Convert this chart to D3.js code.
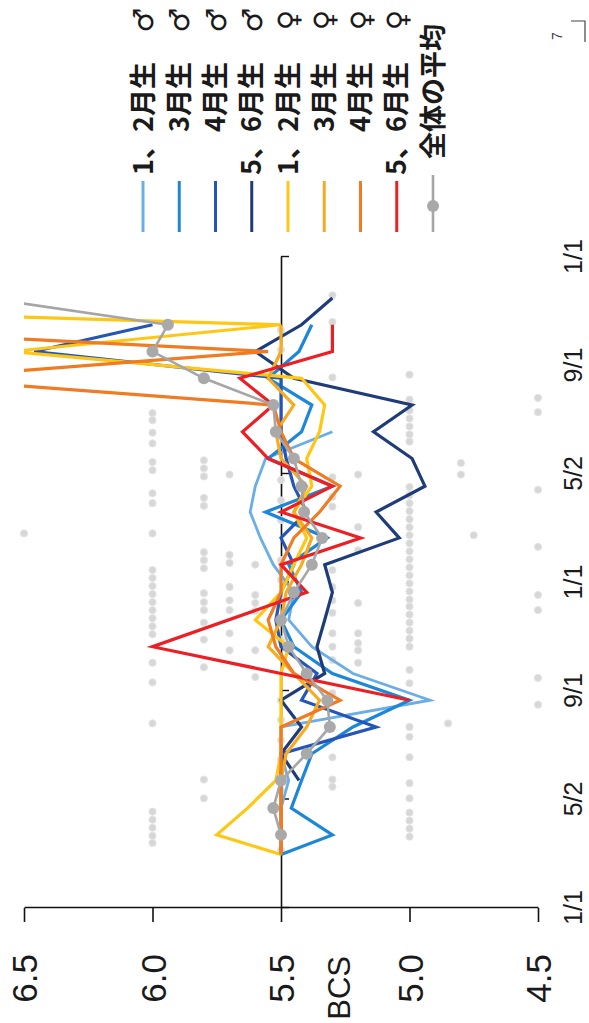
<!DOCTYPE html>
<html><head><meta charset="utf-8">
<script src="https://cdn.jsdelivr.net/npm/d3@7"></script>
<style>html,body{margin:0;padding:0;background:#fff;}svg{display:block;}</style>
</head><body>
<svg id="c" width="589" height="1023"></svg>
<script>
// ---------- data ----------
const dateTickDays = [0, 121.67, 243.33, 365, 486.67, 608.33, 730];
const dateTickLabels = ["1/1", "5/2", "9/1", "1/1", "5/2", "9/1", "1/1"];
const bcsTicks = [4.5, 5.0, 5.5, 6.0, 6.5];
const measureDays = [60, 82, 112, 143, 173, 203, 233, 263, 293, 323, 354, 385, 415, 444, 473, 504, 534, 564, 594, 624, 654, 684];

const seriesLabels = ["1、2月生", "3月生", "4月生", "5、6月生", "1、2月生", "3月生", "4月生", "5、6月生"];
const seriesSex = ["♂", "♂", "♂", "♂", "♀", "♀", "♀", "♀"];
const seriesColors = ["#6aaee8", "#1c87d9", "#2456b8", "#1f3c7a", "#ffc715", "#f7ab22", "#ef7b22", "#ec2024"];
const avgLabel = "全体の平均";

const male12   = [5.5, 5.5, 5.5, 5.47, 5.5, 5.5, 4.92, 5.22, 5.38, 5.47, 5.45, 5.53, 5.58, 5.62, 5.6, 5.56, 5.3, null, null, null, null, null];
const male3    = [5.5, 5.3, 5.46, 5.42, 5.38, 5.22, 5.0, 5.3, 5.45, 5.5, 5.42, 5.47, 5.32, 5.56, 5.3, 5.55, 5.42, 5.38, 5.55, 5.43, 5.38, null];
const male4    = [5.5, 5.5, 5.5, 5.5, 5.5, 5.13, 5.42, 5.36, 5.5, 5.52, 5.5, 5.45, 5.5, 5.4, 5.45, 5.48, 5.5, 5.5, 5.5, 6.46, 6.0, null];
const male56   = [null, null, null, 5.43, 5.5, 5.42, 5.5, 5.33, 5.36, 5.33, 5.3, 5.33, 5.04, 5.13, 4.94, 4.99, 5.14, 4.99, 5.45, 5.6, 5.42, 5.3];
const female12 = [5.5, 5.75, 5.63, 5.52, 5.5, 5.5, 5.5, 5.5, 5.47, 5.6, 5.5, 5.45, 5.4, 5.45, 5.38, 5.4, 5.35, 5.33, 5.42, 6.55, 5.5, 9.0];
const female3  = [5.5, 5.5, 5.5, 5.5, 5.48, 5.4, 5.35, 5.45, 5.55, 5.5, 5.48, 5.42, 5.38, 5.45, 5.4, 5.5, 5.52, 5.45, 5.55, 5.5, 5.5, null];
const female4  = [5.5, 5.5, 5.5, 5.5, 5.5, 5.5, 5.27, 5.45, 5.52, 5.55, 5.5, 5.5, 5.45, 5.35, 5.27, 5.45, 5.5, 5.53, 6.9, 5.55, 7.6, null];
const female56 = [null, null, null, null, null, null, 5.0, null, 6.0, null, 5.4, 5.5, 5.19, 5.5, 5.3, 5.55, 5.65, 5.53, 5.66, 5.3, 5.3, null];
const avgValues = [null, 5.5, 5.53, 5.5, 5.4, 5.31, 5.32, 5.4, 5.47, 5.5, 5.45, 5.38, 5.34, 5.41, 5.42, 5.45, 5.52, 5.53, 5.8, 6.0, 5.94, 6.65];

// individual measurements (light grey dots): BCS level and the days measured at that level
const dotLevels = [6.5, 6.0, 5.8, 5.7, 5.6, 5.5, 5.3, 5.2, 5.0, 4.85, 4.8, 4.75, 4.5];
const dotDays = [
  [420],
  [555, 547, 533, 521, 500, 491, 465, 454, 420, 379, 370, 361, 352, 343, 334, 325, 316, 307, 275, 253, 207, 108, 99, 90, 81, 73],
  [502, 493, 484, 460, 451, 399, 390, 381, 353, 343, 334, 320, 301, 270, 144, 123],
  [486, 396, 387, 360, 345, 334, 308, 289],
  [385, 351, 342, 333, 289, 259],
  [648, 626, 480, 457, 435, 390, 368, 345, 301, 233, 211, 188, 166, 132, 65],
  [687, 657, 595, 483, 461, 450, 379, 360, 345, 331, 308, 293, 278, 241, 169, 144, 136],
  [486, 427, 401, 342, 308, 297, 289, 275],
  [598, 570, 558, 549, 540, 531, 523, 472, 463, 454, 445, 436, 427, 418, 409, 400, 391, 382, 373, 364, 355, 346, 338, 329, 320, 311, 302, 293, 267, 252, 203, 192, 169, 140, 123, 107, 98, 89, 80],
  [207],
  [499, 486],
  [418],
  [572, 556, 469, 405, 351, 334, 258, 228]
];

// ---------- drawing (chart drawn in its own frame, then turned 90° counter-clockwise) ----------
const seriesValues = [male12, male3, male4, male56, female12, female3, female4, female56];
const svg = d3.select("#c");
svg.append("rect").attr("width", 589).attr("height", 1023).attr("fill", "#fff");
const g = svg.append("g").attr("transform", "translate(0,1023) rotate(-90)");

const x = d3.scaleLinear().domain([0, 730]).range([115, 766]);
const y = d3.scaleLinear().domain([4.5, 6.5]).range([538, 24]);
const latin = "'Liberation Sans', Arial, sans-serif";
const cjk = "'Noto Sans CJK JP', 'Noto Sans', sans-serif";

g.append("clipPath").attr("id", "plotclip").append("rect")
  .attr("x", 115).attr("y", 24).attr("width", 651).attr("height", 514);

// date axis (crosses at BCS 5.5)
const xAxis = d3.axisBottom(x).tickValues(dateTickDays)
  .tickFormat((d, i) => dateTickLabels[i]).tickSize(8).tickSizeOuter(0);
const gx = g.append("g").attr("transform", `translate(0,${y(5.5)})`).call(xAxis);
gx.attr("font-family", latin).attr("font-size", 25);
gx.select(".domain").attr("stroke", "#111").attr("stroke-width", 1.6);
gx.selectAll(".tick line").attr("stroke", "#111").attr("stroke-width", 1.4);
gx.selectAll(".tick text").attr("y", 573 - y(5.5)).attr("dy", "0.36em").attr("fill", "#1a1a1a");

// BCS axis
const yAxis = d3.axisLeft(y).tickValues(bcsTicks).tickFormat(d3.format(".1f"))
  .tickSize(14).tickPadding(32).tickSizeOuter(0);
const gy = g.append("g").attr("transform", "translate(115,0)").call(yAxis);
gy.attr("font-family", latin).attr("font-size", 35);
gy.select(".domain").attr("stroke", "#111").attr("stroke-width", 1.6);
gy.selectAll(".tick line").attr("stroke", "#111").attr("stroke-width", 1.6);
gy.selectAll(".tick text").attr("fill", "#1a1a1a").attr("dy", "0.36em");

g.append("text").attr("x", 67).attr("y", 339).attr("dy", "0.36em")
  .attr("text-anchor", "end").attr("font-family", latin).attr("font-size", 31)
  .attr("fill", "#1a1a1a").text("BCS");

// individual dots (drawn unclipped)
const dots = [];
dotLevels.forEach((lv, k) => dotDays[k].forEach(d => dots.push([d, lv])));
g.append("g").selectAll("circle").data(dots).join("circle")
  .attr("cx", d => x(d[0])).attr("cy", d => y(d[1])).attr("r", 3.6)
  .attr("fill", "#d7d7d7").attr("stroke", "#e4e4e4").attr("stroke-width", 1);

// series lines (clipped to the plot area)
const plot = g.append("g").attr("clip-path", "url(#plotclip)");
const line = d3.line().x(d => x(d[0])).y(d => y(d[1]));
const toPts = vals => measureDays.map((d, i) => [d, vals[i]]).filter(p => p[1] != null);

seriesValues.forEach((vals, k) => {
  plot.append("path").attr("d", line(toPts(vals))).attr("fill", "none")
    .attr("stroke", seriesColors[k]).attr("stroke-width", k === 0 ? 2.8 : 3.2)
    .attr("stroke-linejoin", "miter");
});
const avgPts = toPts(avgValues);
plot.append("path").attr("d", line(avgPts)).attr("fill", "none")
  .attr("stroke", "#a6a6a6").attr("stroke-width", 2.6);
plot.append("g").selectAll("circle").data(avgPts).join("circle")
  .attr("cx", d => x(d[0])).attr("cy", d => y(d[1])).attr("r", 6)
  .attr("fill", "#a9a9a9");

// legend
const leg = g.append("g");
const legV = i => 143 + i * 36.25;
seriesLabels.forEach((lab, i) => {
  leg.append("line").attr("x1", 791).attr("x2", 842).attr("y1", legV(i)).attr("y2", legV(i))
    .attr("stroke", seriesColors[i]).attr("stroke-width", 3);
  leg.append("text").attr("x", 961).attr("y", legV(i)).attr("dy", "0.36em")
    .attr("text-anchor", "end").attr("font-family", cjk).attr("font-size", 27)
    .attr("font-weight", "bold").attr("fill", "#1a1a1a").text(lab);
  leg.append("text").attr("x", 1003).attr("y", legV(i)).attr("dy", "0.36em")
    .attr("text-anchor", "middle").attr("font-family", "'DejaVu Sans', sans-serif").attr("font-size", 28)
    .attr("fill", "#1a1a1a").text(seriesSex[i]);
});
leg.append("line").attr("x1", 791).attr("x2", 848).attr("y1", legV(8)).attr("y2", legV(8))
  .attr("stroke", "#a6a6a6").attr("stroke-width", 2.6);
leg.append("circle").attr("cx", 817).attr("cy", legV(8)).attr("r", 6).attr("fill", "#a9a9a9");
leg.append("text").attr("x", 864).attr("y", legV(8)).attr("dy", "0.36em")
  .attr("font-family", cjk).attr("font-size", 27).attr("font-weight", "bold")
  .attr("fill", "#1a1a1a").text(avgLabel);

// page number of the scanned sheet
g.append("text").attr("x", 987).attr("y", 557).attr("dy", "0.36em").attr("text-anchor", "middle")
  .attr("font-family", latin).attr("font-size", 14).attr("fill", "#333").text("7");
svg.append("path").attr("d", "M571,21H585V42").attr("fill", "none").attr("stroke", "#444").attr("stroke-width", 1.2);
</script>
</body></html>
